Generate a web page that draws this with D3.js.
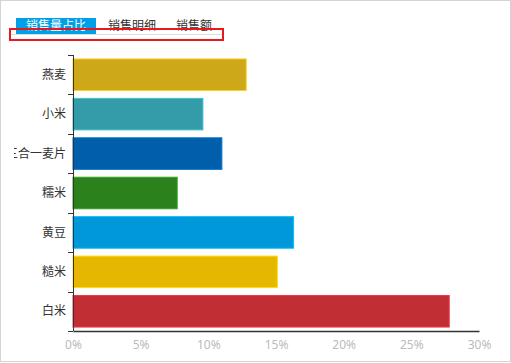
<!DOCTYPE html>
<html lang="zh">
<head>
<meta charset="UTF-8">
<title>销售量占比</title>
<script src="https://d3js.org/d3.v7.min.js"></script>
<style>
  html, body { margin: 0; padding: 0; background: #fff; }
  svg { display: block; font-family: "Noto Sans CJK SC", "Microsoft YaHei", sans-serif; }
</style>
</head>
<body>
<div id="chart"></div>
<script>
    // data (percent of sales volume)
    var tabs = ["销售量占比", "销售明细", "销售额"];
    var products = ["白米", "糙米", "黄豆", "糯米", "三合一麦片", "小米", "燕麦"];
    var shares = [27.8, 15.1, 16.3, 7.7, 11.0, 9.6, 12.8];
    var colors = ["#c12e34", "#e6b600", "#0098d9", "#2b821d", "#005eaa", "#339ca8", "#cda819"];
    var xTicks = [0, 5, 10, 15, 20, 25, 30];

    var W = 511, H = 363;
    var margin = {top: 55, right: 32, bottom: 32, left: 73},
        width = 479 - margin.left,
        height = 331 - margin.top;

    var svg = d3.select("#chart").append("svg")
        .attr("width", W)
        .attr("height", H);

    // panel frame
    svg.append("rect")
        .attr("x", 0.5).attr("y", 0.5)
        .attr("width", 510).attr("height", 361)
        .attr("fill", "none")
        .attr("stroke", "#d4d4d4");

    // tabs
    var tabX = [16, 107, 175];
    var tabW = [80, 50, 38];
    svg.append("line")
        .attr("x1", 10).attr("x2", 222)
        .attr("y1", 34.5).attr("y2", 34.5)
        .attr("stroke", "#ddd");
    svg.append("rect")
        .attr("x", tabX[0]).attr("y", 18)
        .attr("width", tabW[0]).attr("height", 16)
        .attr("fill", "#00a0e9");
    svg.selectAll(".tab")
        .data(tabs)
        .enter().append("text")
        .attr("class", "tab")
        .attr("x", function(d, i) { return tabX[i] + tabW[i] / 2; })
        .attr("y", 30)
        .attr("text-anchor", "middle")
        .style("font-size", "12px")
        .attr("fill", function(d, i) { return i === 0 ? "#fff" : "#333"; })
        .text(function(d) { return d; });
    svg.append("rect")
        .attr("x", 10).attr("y", 29)
        .attr("width", 213).attr("height", 11)
        .attr("fill", "none")
        .attr("stroke", "#e8191c")
        .attr("stroke-width", 2);

    var g = svg.append("g")
        .attr("transform", "translate(" + margin.left + "," + margin.top + ")");

    var x = d3.scaleLinear().domain([0, 30]).range([0, width]);
    var y = d3.scaleBand().domain(products.slice().reverse()).range([0, height])
        .paddingInner(0.2).paddingOuter(0.1);

    // bars
    g.selectAll(".bar")
        .data(products)
        .enter().append("rect")
        .attr("class", "bar")
        .attr("x", 0)
        .attr("y", function(d) { return y(d); })
        .attr("width", function(d, i) { return x(shares[i]); })
        .attr("height", y.bandwidth())
        .attr("fill", function(d, i) { return colors[i]; })
        .attr("stroke", function(d, i) { return d3.color(colors[i]).brighter(0.6); })
        .attr("stroke-width", 1);

    // x axis
    var xAxis = g.append("g")
        .attr("transform", "translate(0," + height + ")")
        .call(d3.axisBottom(x).tickValues(xTicks).tickSize(0).tickPadding(9)
            .tickFormat(function(d) { return d + "%"; }));
    xAxis.select(".domain").attr("stroke", "#333").attr("stroke-width", 1.5);
    xAxis.selectAll("text")
        .attr("fill", "#bbb")
        .style("font-size", "12px")
        .style("font-family", "'Noto Sans', sans-serif");

    // clip for y labels (long label is cut at the left)
    svg.append("clipPath").attr("id", "labelClip")
        .append("rect").attr("x", 14 - margin.left).attr("y", -20)
        .attr("width", 200).attr("height", height + 40);

    // y axis, ticks between bands
    var yAxisG = g.append("g");
    yAxisG.append("line")
        .attr("x1", 0.5).attr("x2", 0.5)
        .attr("y1", 0).attr("y2", height)
        .attr("stroke", "#333");
    var bounds = d3.range(products.length + 1).map(function(i) {
        return i * height / products.length;
    });
    yAxisG.selectAll(".ytick")
        .data(bounds)
        .enter().append("line")
        .attr("class", "ytick")
        .attr("x1", -5).attr("x2", 0)
        .attr("y1", function(d) { return Math.round(d) + 0.5; })
        .attr("y2", function(d) { return Math.round(d) + 0.5; })
        .attr("stroke", "#333");
    yAxisG.append("g").attr("clip-path", "url(#labelClip)")
        .selectAll(".ylabel")
        .data(products)
        .enter().append("text")
        .attr("class", "ylabel")
        .attr("x", -7)
        .attr("y", function(d) { return y(d) + y.bandwidth() / 2; })
        .attr("dy", "0.35em")
        .attr("text-anchor", "end")
        .style("font-size", "12px")
        .attr("fill", "#333")
        .text(function(d) { return d; });
</script>
</body>
</html>
